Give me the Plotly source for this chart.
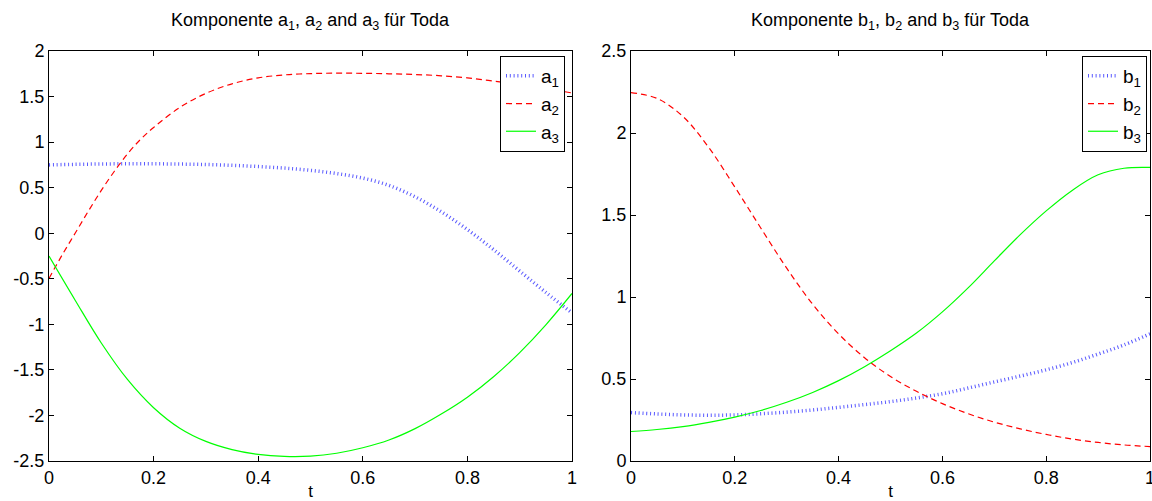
import plotly.graph_objects as go

# --- Komponenten a_1, a_2, a_3 ---
t_a1 = [0.0, 0.05, 0.10, 0.15, 0.20, 0.25, 0.30, 0.35, 0.40, 0.45, 0.50, 0.55,
        0.60, 0.65, 0.70, 0.75, 0.80, 0.85, 0.90, 0.95, 1.0]
a1 = [0.750, 0.756, 0.760, 0.762, 0.762, 0.759, 0.754, 0.745, 0.732, 0.715, 0.690, 0.655,
      0.605, 0.525, 0.400, 0.235, 0.040, -0.180, -0.415, -0.650, -0.875]

t_a2 = [0.0, 0.025, 0.05, 0.075, 0.10, 0.125, 0.15, 0.175, 0.20, 0.25, 0.30, 0.35,
        0.40, 0.45, 0.50, 0.55, 0.60, 0.65, 0.70, 0.75, 0.80, 0.85, 0.90, 0.95, 1.0]
a2 = [-0.496, -0.240, 0.000, 0.240, 0.470, 0.680, 0.870, 1.030, 1.160, 1.380, 1.535, 1.640,
      1.705, 1.738, 1.752, 1.757, 1.755, 1.750, 1.742, 1.728, 1.705, 1.670, 1.630, 1.587, 1.540]

t_a3 = [0.0, 0.05, 0.10, 0.15, 0.20, 0.25, 0.30, 0.35, 0.40, 0.45, 0.50, 0.55,
        0.60, 0.65, 0.70, 0.75, 0.80, 0.85, 0.90, 0.95, 1.0]
a3 = [-0.251, -0.735, -1.205, -1.605, -1.915, -2.140, -2.285, -2.375, -2.428, -2.450, -2.447, -2.415,
      -2.355, -2.270, -2.145, -1.985, -1.800, -1.575, -1.310, -1.005, -0.661]

# --- Komponenten b_1, b_2, b_3 ---
t_b = [0.0, 0.05, 0.10, 0.15, 0.20, 0.25, 0.30, 0.35, 0.40, 0.45, 0.50, 0.55,
       0.60, 0.65, 0.70, 0.75, 0.80, 0.85, 0.90, 0.95, 1.0]
b1 = [0.295, 0.287, 0.281, 0.279, 0.281, 0.288, 0.298, 0.311, 0.327, 0.344, 0.362, 0.384,
      0.410, 0.445, 0.482, 0.518, 0.556, 0.600, 0.652, 0.708, 0.775]
b2 = [2.246, 2.211, 2.101, 1.911, 1.671, 1.421, 1.176, 0.956, 0.775, 0.630, 0.515, 0.425,
      0.350, 0.288, 0.237, 0.196, 0.162, 0.134, 0.113, 0.098, 0.088]
b3 = [0.180, 0.192, 0.210, 0.236, 0.268, 0.308, 0.358, 0.418, 0.490, 0.575, 0.672, 0.780,
      0.909, 1.057, 1.220, 1.380, 1.525, 1.650, 1.745, 1.785, 1.790]

x_ticks = [0, 0.2, 0.4, 0.6, 0.8, 1]
x_labels = ["0", "0.2", "0.4", "0.6", "0.8", "1"]
ya_ticks = [-2.5, -2, -1.5, -1, -0.5, 0, 0.5, 1, 1.5, 2]
ya_labels = ["-2.5", "-2", "-1.5", "-1", "-0.5", "0", "0.5", "1", "1.5", "2"]
yb_ticks = [0, 0.5, 1, 1.5, 2, 2.5]
yb_labels = ["0", "0.5", "1", "1.5", "2", "2.5"]

title_a = "Komponente a<sub>1</sub>, a<sub>2</sub> and a<sub>3</sub> für Toda"
title_b = "Komponente b<sub>1</sub>, b<sub>2</sub> and b<sub>3</sub> für Toda"

W, H = 1152, 501
FONT = "Liberation Sans, Arial, sans-serif"

# plot-area rectangles in pixels
left_px = (49, 572)
right_px = (631, 1150)
top_px, bottom_px = 51, 461

def xdom(px):
    return [px[0] / W, px[1] / W]

ydom = [(H - bottom_px) / H, (H - top_px) / H]

dot_style = dict(color="rgb(90,90,255)", width=3.5, dash="1px,2.8px")
dash_style = dict(color="rgb(255,0,0)", width=1.2, dash="6px,4px")
solid_style = dict(color="rgb(0,255,0)", width=1.2)

fig = go.Figure()
fig.add_trace(go.Scatter(x=t_a1, y=a1, mode="lines", name="a<sub>1</sub>", line=dict(**dot_style, shape="spline"),
                         xaxis="x", yaxis="y", legend="legend"))
fig.add_trace(go.Scatter(x=t_a2, y=a2, mode="lines", name="a<sub>2</sub>", line=dict(**dash_style, shape="spline"),
                         xaxis="x", yaxis="y", legend="legend"))
fig.add_trace(go.Scatter(x=t_a3, y=a3, mode="lines", name="a<sub>3</sub>", line=dict(**solid_style, shape="spline"),
                         xaxis="x", yaxis="y", legend="legend"))
fig.add_trace(go.Scatter(x=t_b, y=b1, mode="lines", name="b<sub>1</sub>", line=dict(**dot_style, shape="spline"),
                         xaxis="x2", yaxis="y2", legend="legend2"))
fig.add_trace(go.Scatter(x=t_b, y=b2, mode="lines", name="b<sub>2</sub>", line=dict(**dash_style, shape="spline"),
                         xaxis="x2", yaxis="y2", legend="legend2"))
fig.add_trace(go.Scatter(x=t_b, y=b3, mode="lines", name="b<sub>3</sub>", line=dict(**solid_style, shape="spline"),
                         xaxis="x2", yaxis="y2", legend="legend2"))

axis_common = dict(
    showline=True, linecolor="black", linewidth=1, mirror="ticks",
    ticks="inside", ticklen=5, tickwidth=1, tickcolor="black",
    showgrid=False, zeroline=False, automargin=False,
    ticklabeloverflow="allow",
    tickfont=dict(family=FONT, size=18, color="black"),
)

xaxis_common = dict(axis_common, range=[0, 1], tickmode="array", tickvals=x_ticks, ticktext=x_labels,
                    title=dict(text="t", font=dict(family=FONT, size=17, color="black"), standoff=3))

legend_common = dict(
    bordercolor="black", borderwidth=1, bgcolor="white",
    font=dict(family=FONT, size=19, color="black"),
    xanchor="right", yanchor="top", y=(H - 56) / H,
)

fig.update_layout(
    width=W, height=H,
    margin=dict(l=0, r=0, t=0, b=0),
    paper_bgcolor="white", plot_bgcolor="white",
    showlegend=True,
    xaxis=dict(xaxis_common, domain=xdom(left_px), anchor="y"),
    yaxis=dict(axis_common, domain=ydom, anchor="x", range=[-2.5, 2],
               tickmode="array", tickvals=ya_ticks, ticktext=ya_labels),
    xaxis2=dict(xaxis_common, domain=xdom(right_px), anchor="y2"),
    yaxis2=dict(axis_common, domain=ydom, anchor="x2", range=[0, 2.5],
                tickmode="array", tickvals=yb_ticks, ticktext=yb_labels),
    legend=dict(legend_common, x=565 / W),
    legend2=dict(legend_common, x=1147 / W),
    annotations=[
        dict(text=title_a, x=sum(left_px) / 2 / W, y=(H - 21) / H, xref="paper", yref="paper",
             xanchor="center", yanchor="middle", showarrow=False,
             font=dict(family=FONT, size=18, color="black")),
        dict(text=title_b, x=sum(right_px) / 2 / W, y=(H - 21) / H, xref="paper", yref="paper",
             xanchor="center", yanchor="middle", showarrow=False,
             font=dict(family=FONT, size=18, color="black")),
    ],
)

fig.write_html("out.html")
